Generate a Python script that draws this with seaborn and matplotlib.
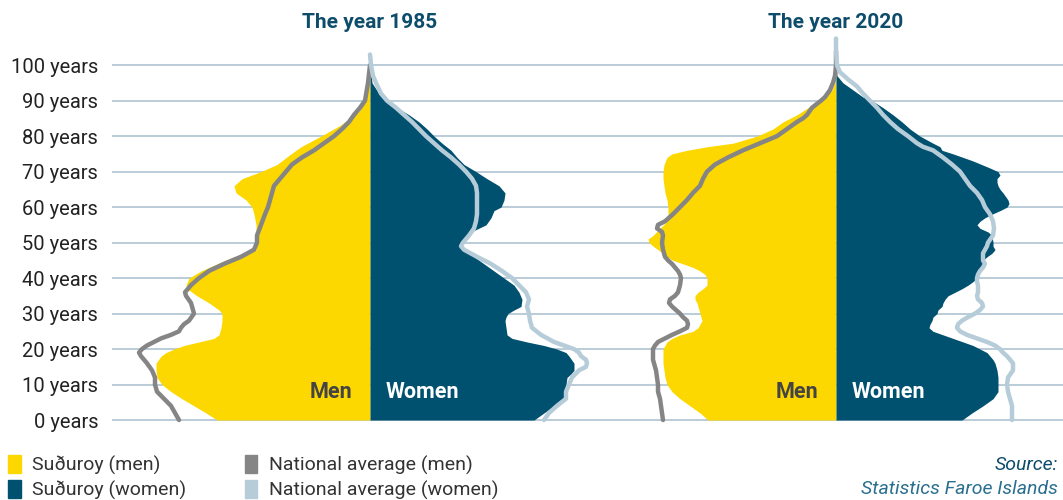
import pandas as pd
import seaborn as sns
import matplotlib.pyplot as plt
from matplotlib.patches import Patch

# Widths of the pyramids (same unit for every series)
# 1985
age_m85 = [0,2,4,6,8,10,12,14,16,18,19,20,21,22,23,24,26,28,30,31,33,35,37,38,40,42,44,46,48,50,52,55,58,60,62,64,66,68,70,72,75,77,80,83,85,87,90,95,100]
sud_m85 = [153,164,176,188,199,208,213,214,214,209,204,196,186,171,156,151,149,148,148,151,161,173,183,184,181,169,153,136,114,113,114,114,116,118,124,134,136,128,109,93,79,69,49,30,20,11,4,1,0]

age_nm85 = [0,2,4,6,8,10,12,14,16,18,19,20,21,22,23,24,25,26,27,28,30,31,33,35,36,38,40,42,44,46,48,50,52,55,58,60,62,64,66,68,70,72,74,76,78,80,82,84,86,88,90,95,100]
nat_m85 = [191,195,199,206,213,215,215,218,223,229,231,228,223,216,209,199,191,189,186,181,176,177,179,184,185,179,171,161,146,129,116,113,113,109,105,102,100,98,96,90,84,78,68,56,46,36,28,21,16,10,5,2,0]

age_w85 = [0,2,4,5,6,8,10,12,13,14,16,18,19,20,21,22,23,24,26,28,29,30,31,32,34,36,38,40,42,44,46,48,50,51,53,55,57,59,60,62,64,66,68,70,72,74,76,78,80,82,84,86,88,90,92,95,100]
sud_w85 = [164,174,184,191,194,194,196,197,201,204,204,199,196,187,174,157,142,137,136,135,136,138,144,151,152,149,144,134,124,114,104,94,91,94,101,116,121,124,131,134,135,129,117,106,94,87,81,72,64,57,49,39,27,16,9,2,0]

age_nw85 = [0,2,4,6,8,10,12,14,15,16,17,18,19,20,21,22,24,26,28,30,32,34,36,38,40,42,44,46,48,49,50,52,54,56,58,60,62,64,66,68,70,72,74,76,78,80,82,84,86,88,90,92,95,97,100,103]
nat_w85 = [174,179,187,196,196,199,202,209,216,217,216,211,209,204,194,184,171,162,160,159,157,159,156,149,142,132,121,107,94,91,93,99,104,106,107,107,107,107,106,102,96,89,81,72,64,56,49,42,34,26,17,11,6,3,1,0]

# 2020
age_m20 = [0,2,4,6,8,10,12,14,16,18,20,21,22,23,24,25,26,27,28,29,30,32,33,34,35,36,37,38,39,40,41,42,43,44,45,46,47,48,49,50,51,52,54,56,58,60,62,64,66,68,70,72,74,75,76,77,78,80,82,84,86,88,90,92,93,95,100]
sud_m20 = [128,136,146,156,164,169,171,172,173,173,173,171,169,164,156,143,138,136,134,135,136,138,139,141,141,138,133,129,129,129,131,136,143,153,163,169,173,178,183,187,188,183,176,169,168,168,169,171,172,173,173,172,169,164,149,129,103,79,63,53,39,28,18,9,4,1,0]

age_nm20 = [0,2,4,6,8,10,12,14,16,17,18,19,20,21,22,23,24,25,26,27,28,29,30,31,32,33,34,35,36,37,38,40,41,42,43,44,45,46,48,50,52,53,54,55,56,58,60,62,64,66,68,70,72,74,76,78,80,82,84,85,86,88,90,91,93,95,97,100,104]
nat_m20 = [173,174,175,176,178,178,179,180,182,183,183,183,183,181,178,171,164,156,149,148,149,153,156,160,164,167,166,161,158,157,156,155,156,158,161,164,168,171,173,174,173,174,179,178,171,163,156,149,143,136,133,129,121,108,93,76,59,49,39,33,29,24,15,11,6,3,1,0,0]

age_w20 = [0,2,4,6,8,10,12,14,16,17,18,19,20,21,22,23,24,25,26,27,28,29,30,31,32,33,34,35,36,37,38,39,40,41,42,43,44,45,46,47,48,49,50,52,53,54,55,56,57,58,59,60,61,62,64,65,66,67,68,69,70,71,73,75,76,77,78,80,82,84,86,88,90,91,93,95,97,100]
sud_w20 = [126,136,147,157,162,162,162,161,159,157,154,151,144,137,127,117,107,97,93,94,96,97,101,102,106,107,109,112,119,126,132,137,141,142,144,147,147,147,151,156,159,157,157,156,152,144,141,144,149,156,164,171,173,172,167,164,162,161,161,164,162,154,137,117,106,104,97,84,74,66,57,47,36,27,17,7,1,0]

age_nw20 = [0,2,4,6,8,10,12,14,16,17,18,19,20,21,22,23,24,25,26,27,28,29,30,31,32,33,34,35,36,38,39,40,41,42,43,44,45,46,47,48,49,50,52,54,56,58,60,62,64,66,68,70,72,74,76,77,78,80,82,84,86,88,90,92,94,96,98,100,104,107.5]
nat_w20 = [176,176,176,174,172,171,172,177,177,174,171,167,164,159,151,141,131,124,121,122,126,132,139,144,147,146,142,141,142,142,141,141,142,144,147,149,147,147,147,149,151,152,157,158,157,154,149,146,141,134,129,124,116,107,97,87,81,72,62,54,47,41,34,27,21,12,4,1,0,0]

tick_ages = [0,10,20,30,40,50,60,70,80,90,100]
tick_labels = [f"{a} years" for a in tick_ages]
years = ["1985", "2020"]

YELLOW = "#fcd800"
NAVY = "#005070"
GREY = "#858585"
LIGHT = "#b6cdd9"
GRID = "#a7bfcd"
TITLE = "#0d4d6b"

sns.set_style("white")
plt.rcParams["font.family"] = ["Roboto", "DejaVu Sans"]

fig = plt.figure(figsize=(10.63, 5.0), dpi=100)
W = 1063
ax1 = fig.add_axes([112 / W, 0.15, 491 / W, 0.79])
ax2 = fig.add_axes([603 / W, 0.15, 460 / W, 0.79])

panels = [
    (ax1, (-258, 233), age_m85, sud_m85, age_nm85, nat_m85, age_w85, sud_w85, age_nw85, nat_w85),
    (ax2, (-233, 227), age_m20, sud_m20, age_nm20, nat_m20, age_w20, sud_w20, age_nw20, nat_w20),
]

for (ax, xlim, am, sm, anm, nm, aw, sw, anw, nw), year in zip(panels, years):
    for a in tick_ages:
        ax.axhline(a, color=GRID, lw=1.1, zorder=0)
    ax.fill_betweenx(am, [-v for v in sm], 0, color=YELLOW, lw=0, zorder=2)
    ax.fill_betweenx(aw, 0, sw, color=NAVY, lw=0, zorder=2)

    dm = pd.DataFrame({"age": anm, "val": [-v for v in nm]})
    dw = pd.DataFrame({"age": anw, "val": nw})
    sns.lineplot(data=dm, x="val", y="age", orient="y", ax=ax, color=GREY,
                 lw=3.2, solid_capstyle="round", zorder=3)
    sns.lineplot(data=dw, x="val", y="age", orient="y", ax=ax, color=LIGHT,
                 lw=3.2, solid_capstyle="round", zorder=3)

    ax.set_xlim(*xlim)
    ax.set_ylim(-1.4, 109.9)
    ax.set_xlabel("")
    ax.set_ylabel("")
    ax.set_xticks([])
    for s in ax.spines.values():
        s.set_visible(False)
    ax.text(-18, 8, "Men", ha="right", va="center", fontsize=15.5,
            fontweight="bold", color="#444444", zorder=4)
    ax.text(16, 8, "Women", ha="left", va="center", fontsize=15.5,
            fontweight="bold", color="white", zorder=4)
    ax.text(0, 1.02, f"The year {year}", transform=ax.get_xaxis_transform(),
            ha="center", va="center", fontsize=15, fontweight="bold",
            color=TITLE)

ax1.set_yticks(tick_ages)
ax1.set_yticklabels(tick_labels, fontsize=14.5, color="#222222")
ax1.tick_params(axis="y", length=0, pad=10)
ax2.set_yticks([])

handles = [Patch(color=YELLOW, label="Suðuroy (men)"),
           Patch(color=NAVY, label="Suðuroy (women)"),
           Patch(color=GREY, label="National average (men)"),
           Patch(color=LIGHT, label="National average (women)")]
fig.legend(handles=handles, ncol=2, loc="lower left", bbox_to_anchor=(-0.009, -0.035),
           frameon=False, fontsize=14, handlelength=0.65, handleheight=1.1,
           handletextpad=0.6, columnspacing=3.0, labelspacing=0.25,
           labelcolor="#333333")

fig.text(0.995, 0.07, "Source:", ha="right", va="center", fontsize=14,
         style="italic", color=TITLE)
fig.text(0.995, 0.022, "Statistics Faroe Islands", ha="right", va="center",
         fontsize=14, style="italic", color="#2a6f8f")

fig.savefig("out.png", dpi=100)
